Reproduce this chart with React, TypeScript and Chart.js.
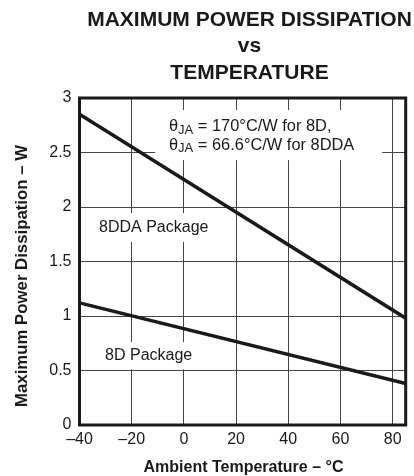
import { useEffect, useRef } from 'react';
import { Chart, registerables } from 'chart.js';

Chart.register(...registerables);

// ---- data ----
const temperatures = [-40, 85];
const power8DDA = [2.85, 0.98];
const power8D = [1.12, 0.38];
const xTickValues = [-40, -20, 0, 20, 40, 60, 80];
const yTickValues = [0, 0.5, 1, 1.5, 2, 2.5, 3];
const titleLines = ['MAXIMUM POWER DISSIPATION', 'vs', 'TEMPERATURE'];
const xTitle = 'Ambient Temperature – °C';
const yTitle = 'Maximum Power Dissipation – W';
const label8DDA = '8DDA Package';
const label8D = '8D Package';
const noteLine1 = ' = 170°C/W for 8D,';
const noteLine2 = ' = 66.6°C/W for 8DDA';

const FONT = '"Liberation Sans", Arial, Helvetica, sans-serif';
const INK = '#1a1a1a';

function drawNote(ctx: CanvasRenderingContext2D, x: number, y: number, rest: string) {
  ctx.textAlign = 'left';
  ctx.textBaseline = 'alphabetic';
  ctx.font = `16.4px ${FONT}`;
  ctx.fillText('θ', x, y);
  let cx = x + ctx.measureText('θ').width;
  ctx.font = `13px ${FONT}`;
  ctx.fillText('JA', cx, y + 2.5);
  cx += ctx.measureText('JA').width;
  ctx.font = `16.4px ${FONT}`;
  ctx.fillText(rest, cx, y);
}

const overlay = {
  id: 'overlay',
  beforeDatasetsDraw(chart: any) {
    const { ctx, scales } = chart;
    const xs = scales.x;
    const ys = scales.y;
    const box = (x0: number, x1: number, y0: number, y1: number) => {
      const l = xs.getPixelForValue(x0);
      const r = xs.getPixelForValue(x1);
      const t = ys.getPixelForValue(y1);
      const b = ys.getPixelForValue(y0);
      ctx.fillRect(l, t, r - l, b - t);
    };
    ctx.save();
    ctx.fillStyle = '#ffffff';
    box(-11, 76, 2.43, 2.89);
    box(-35, 14, 1.68, 1.945);
    box(-33, 4, 0.51, 0.76);
    ctx.restore();
  },
  afterDatasetsDraw(chart: any) {
    const { ctx, chartArea, scales } = chart;
    const xs = scales.x;
    const ys = scales.y;
    ctx.save();
    // frame
    ctx.strokeStyle = INK;
    ctx.lineWidth = 3;
    ctx.strokeRect(chartArea.left, chartArea.top, chartArea.right - chartArea.left, chartArea.bottom - chartArea.top);

    ctx.fillStyle = INK;
    // main title
    ctx.textAlign = 'center';
    ctx.textBaseline = 'middle';
    ctx.font = `bold 21px ${FONT}`;
    const titleY = [20, 46.5, 73];
    titleLines.forEach((t, i) => ctx.fillText(t, 249.5, titleY[i]));

    // axis titles
    ctx.font = `bold 16px ${FONT}`;
    ctx.fillText(xTitle, 243.5, 468);
    ctx.save();
    ctx.translate(22, 276);
    ctx.rotate(-Math.PI / 2);
    ctx.font = `bold 16.8px ${FONT}`;
    ctx.fillText(yTitle, 0, 0);
    ctx.restore();

    // package labels
    ctx.textAlign = 'left';
    ctx.textBaseline = 'middle';
    ctx.font = `16px ${FONT}`;
    ctx.fillText(label8DDA, xs.getPixelForValue(-32.5), ys.getPixelForValue(1.815));
    ctx.fillText(label8D, xs.getPixelForValue(-30.2), ys.getPixelForValue(0.64));

    // thermal resistance note
    const nx = xs.getPixelForValue(-5.7);
    drawNote(ctx, nx, ys.getPixelForValue(2.697), noteLine1);
    drawNote(ctx, nx, ys.getPixelForValue(2.523), noteLine2);
    ctx.restore();
  },
};

const fmt = (v: number) => (v < 0 ? '–' + Math.abs(v) : String(v));

export default function App() {
  const ref = useRef<HTMLCanvasElement>(null);
  useEffect(() => {
    if (!ref.current) return;
    const chart = new Chart(ref.current, {
      type: 'line',
      data: {
        datasets: [
          {
            label: label8DDA,
            data: temperatures.map((t, i) => ({ x: t, y: power8DDA[i] })),
            borderColor: INK,
            borderWidth: 3.5,
            pointRadius: 0,
            fill: false,
          },
          {
            label: label8D,
            data: temperatures.map((t, i) => ({ x: t, y: power8D[i] })),
            borderColor: INK,
            borderWidth: 3.5,
            pointRadius: 0,
            fill: false,
          },
        ],
      },
      options: {
        responsive: false,
        animation: false,
        layout: { padding: { top: 98, right: 8.3, left: 0, bottom: 0 } },
        plugins: { legend: { display: false }, tooltip: { enabled: false }, title: { display: false } },
        scales: {
          x: {
            type: 'linear',
            min: -40,
            max: 85,
            afterBuildTicks: (s: any) => {
              s.ticks = xTickValues.map((v) => ({ value: v }));
            },
            afterFit: (s: any) => {
              s.height = 51;
            },
            grid: { color: '#444', lineWidth: 1, drawTicks: false },
            border: { display: false },
            ticks: {
              padding: 5,
              color: INK,
              font: { family: FONT, size: 16 },
              callback: (v: any) => fmt(Number(v)),
            },
          },
          y: {
            type: 'linear',
            min: 0,
            max: 3,
            afterBuildTicks: (s: any) => {
              s.ticks = yTickValues.map((v) => ({ value: v }));
            },
            afterFit: (s: any) => {
              s.width = 79.5;
            },
            grid: { color: '#444', lineWidth: 1, drawTicks: false },
            border: { display: false },
            ticks: {
              padding: 8,
              color: INK,
              font: { family: FONT, size: 16 },
              callback: (v: any) => fmt(Number(v)),
            },
          },
        },
      },
      plugins: [overlay],
    } as any);
    return () => chart.destroy();
  }, []);
  return (
    <div style={{ position: 'fixed', left: 0, top: 0, width: 414, height: 476, background: '#fff' }}>
      <canvas ref={ref} width={414} height={476} />
    </div>
  );
}
